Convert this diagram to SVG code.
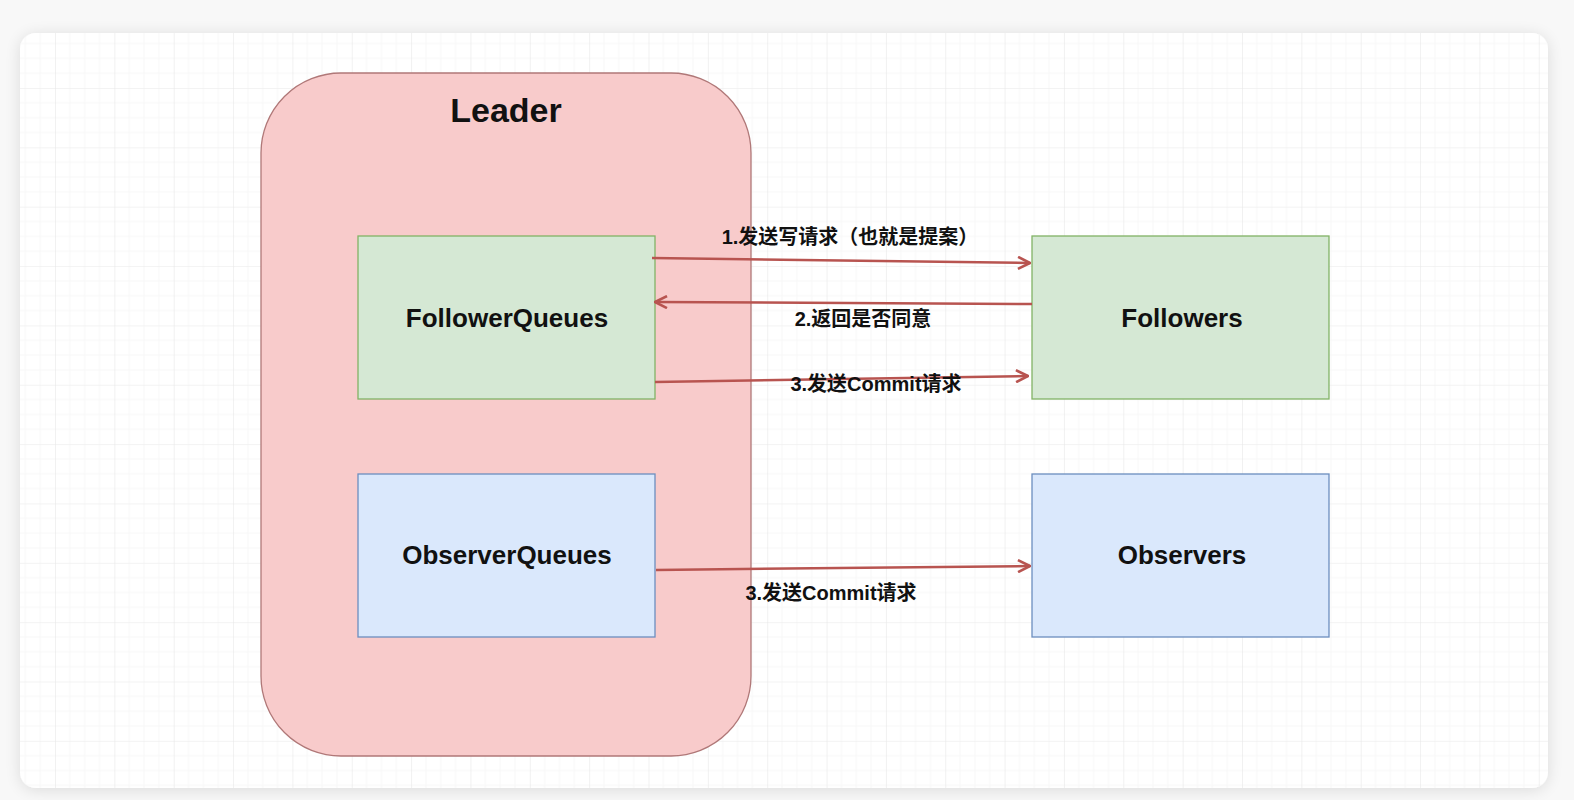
<svg xmlns="http://www.w3.org/2000/svg" width="1574" height="800" viewBox="0 0 1574 800">
<style>
.t{font-family:"Liberation Sans","Noto Sans CJK SC",sans-serif;font-weight:bold;fill:#111;text-anchor:middle}
.node{font-size:26px}
.lbl{font-size:20px}
.green{fill:#d5e8d4;stroke:#82b366;stroke-width:1.3}
.blue{fill:#dae8fc;stroke:#6c8ebf;stroke-width:1.3}
.edge{fill:none;stroke:#b85450;stroke-width:2.5}
</style>
<defs>
<pattern id="grid" patternUnits="userSpaceOnUse" x="55" y="88" width="59.35" height="59.35">
<path d="M14.84 0V59.35M29.68 0V59.35M44.51 0V59.35M0 14.84H59.35M0 29.68H59.35M0 44.51H59.35" stroke="#f7f7f7" stroke-width="1" fill="none"/>
<path d="M0 0V59.35M0 0H59.35" stroke="#e8e8e8" stroke-width="1.2" fill="none"/>
</pattern>
<filter id="sh" x="-5%" y="-5%" width="110%" height="110%">
<feGaussianBlur in="SourceAlpha" stdDeviation="8"/>
<feOffset dy="2"/>
<feComponentTransfer><feFuncA type="linear" slope="0.12"/></feComponentTransfer>
<feMerge><feMergeNode/><feMergeNode in="SourceGraphic"/></feMerge>
</filter>
<marker id="arr" viewBox="0 0 14 14" refX="13" refY="7" markerWidth="14" markerHeight="14" markerUnits="userSpaceOnUse" orient="auto">
<path d="M1 1L13 7L1 13" fill="none" stroke="#b85450" stroke-width="2.6"/>
</marker>
</defs>
<rect width="1574" height="800" fill="#f8f8f8"/>
<rect x="20" y="33" width="1528" height="755" rx="16" fill="#ffffff" filter="url(#sh)"/>
<rect x="20" y="33" width="1528" height="755" rx="16" fill="url(#grid)"/>

<g id="leader">
<rect x="261" y="73" width="490" height="683" rx="80" fill="#f8cbcb" stroke="#b07878" stroke-width="1.3"/>
<text class="t" x="506" y="122" font-size="34">Leader</text>
</g>
<g id="followerqueues">
<rect class="green" x="358" y="236" width="297" height="163"/>
<text class="t node" x="507" y="327">FollowerQueues</text>
</g>
<g id="observerqueues">
<rect class="blue" x="358" y="474" width="297" height="163"/>
<text class="t node" x="507" y="564">ObserverQueues</text>
</g>
<g id="followers">
<rect class="green" x="1032" y="236" width="297" height="163"/>
<text class="t node" x="1182" y="327">Followers</text>
</g>
<g id="observers">
<rect class="blue" x="1032" y="474" width="297" height="163"/>
<text class="t node" x="1182" y="564">Observers</text>
</g>

<g id="connectors">
<path class="edge" d="M652 258L1030 263" marker-end="url(#arr)"/>
<path class="edge" d="M1032 304L655 302" marker-end="url(#arr)"/>
<path class="edge" d="M655 382L1028 376" marker-end="url(#arr)"/>
<path class="edge" d="M656 570L1030 566" marker-end="url(#arr)"/>
<text class="t lbl" x="850" y="244">1.发送写请求（也就是提案）</text>
<text class="t lbl" x="863" y="326">2.返回是否同意</text>
<text class="t lbl" x="876" y="391">3.发送Commit请求</text>
<text class="t lbl" x="831" y="600">3.发送Commit请求</text>
</g>
</svg>
